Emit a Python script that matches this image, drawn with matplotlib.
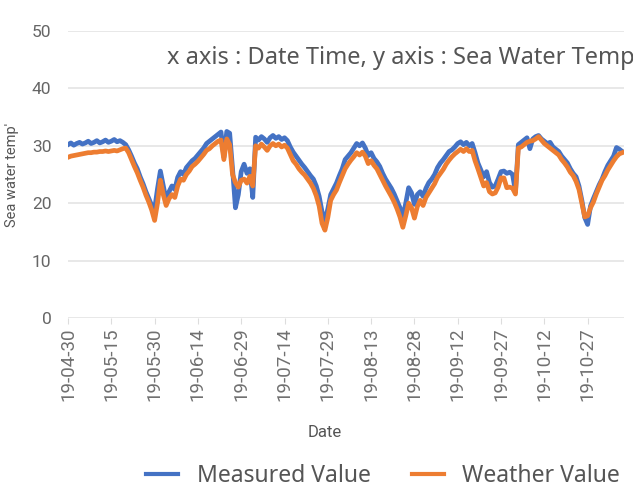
import matplotlib
matplotlib.use("Agg")
import matplotlib.pyplot as plt
import pandas as pd

plt.rcParams['font.family'] = ['Roboto', 'DejaVu Sans']

start_date = "2019-04-30"
measured = [
    30.2, 30.5, 30.1, 30.4, 30.6, 30.3, 30.5, 30.8, 30.4, 30.6,
    30.9, 30.5, 30.7, 31.0, 30.6, 30.8, 31.1, 30.7, 30.9, 30.6,
    30.2, 29.3, 28.2, 27.0, 26.0, 24.6, 23.4, 22.0, 20.8, 19.6,
    18.9, 22.5, 25.6, 23.0, 20.5, 22.0, 23.0, 22.4, 24.5, 25.5,
    25.0, 26.2, 26.8, 27.4, 27.8, 28.4, 29.0, 29.6, 30.4, 30.8,
    31.2, 31.6, 32.0, 32.4, 28.0, 32.5, 32.2, 26.0, 19.2, 21.5,
    25.5, 26.8, 25.2, 26.0, 21.0, 31.5, 31.0, 31.6, 31.2, 30.6,
    31.4, 31.8, 31.3, 31.6, 31.1, 31.4, 30.9, 29.8, 28.9, 28.2,
    27.5, 26.8, 26.2, 25.5, 24.8, 24.2, 23.0, 21.2, 18.5, 17.0,
    19.0, 21.5, 22.5, 23.5, 24.8, 26.0, 27.6, 28.2, 28.8, 29.6,
    30.4, 30.0, 30.5, 29.6, 28.3, 28.8, 27.8, 27.2, 26.4, 25.2,
    24.2, 23.4, 22.6, 21.6, 20.4, 19.2, 17.6, 20.0, 22.7, 21.8,
    19.8, 21.5, 22.0, 21.2, 22.6, 23.6, 24.2, 25.0, 26.2, 27.0,
    27.6, 28.3, 29.0, 29.3, 29.8, 30.4, 30.7, 30.2, 30.6, 30.0,
    30.4, 28.8, 27.0, 25.8, 24.6, 25.5, 23.6, 22.8, 23.0, 24.2,
    25.5, 25.6, 25.2, 25.4, 25.0, 22.0, 30.2, 30.6, 31.0, 31.4,
    29.5, 31.2, 31.6, 31.8, 31.2, 30.8, 30.4, 30.6, 29.8, 29.4,
    29.0, 28.2, 27.6, 27.0, 26.0, 25.2, 24.6, 23.0, 20.5, 17.5,
    16.3, 19.5, 20.8, 22.0, 23.2, 24.2, 25.5, 26.6, 27.4, 28.2,
    29.7, 29.4, 29.0,
]
weather = [
    28.0, 28.2, 28.3, 28.4, 28.5, 28.6, 28.7, 28.8, 28.8, 28.9,
    28.9, 29.0, 29.0, 29.1, 29.0, 29.1, 29.2, 29.1, 29.3, 29.5,
    29.6, 28.8, 27.6, 26.4, 25.3, 24.0, 22.8, 21.4, 20.2, 18.8,
    17.0, 20.0, 24.0, 21.5, 19.6, 20.8, 21.5, 21.0, 23.0, 24.2,
    24.0, 25.0, 25.6, 26.4, 26.8, 27.3, 27.9, 28.5, 29.2, 29.5,
    30.0, 30.4, 30.8, 31.0, 27.6, 31.2, 30.2, 25.0, 23.6, 22.8,
    24.0, 24.2, 23.5, 24.7, 23.0, 30.0, 29.6, 30.3, 29.8, 29.2,
    30.0, 30.4, 30.0, 30.3, 29.8, 30.1, 29.6, 28.5, 27.4, 26.8,
    26.0, 25.4, 24.9, 24.2, 23.5, 22.6, 21.3, 19.5, 16.5, 15.3,
    17.5, 20.5, 21.5, 22.3, 23.6, 24.8, 26.0, 26.8, 27.5, 28.1,
    28.8, 28.4, 28.9, 28.2, 26.9, 27.4, 26.6, 26.0, 25.0, 24.0,
    23.0, 22.1, 21.2, 20.2, 19.0, 17.6, 15.8, 17.8, 20.0, 19.2,
    17.4, 19.4, 20.5, 19.6, 21.0, 21.8, 22.6, 23.4, 24.5, 25.2,
    25.9, 26.8, 27.5, 28.1, 28.6, 29.0, 29.4, 29.0, 29.5, 29.0,
    29.2, 27.4, 26.0, 24.5, 23.0, 23.6, 22.0, 21.6, 21.8, 22.8,
    24.4, 24.4, 22.7, 22.8, 22.6, 21.6, 29.6, 29.8, 30.2, 30.6,
    30.8, 30.9, 31.2, 31.6, 31.0, 30.4, 30.0, 29.6, 29.2, 28.8,
    28.4, 27.6, 27.0, 26.3, 25.4, 24.8, 23.8, 22.4, 20.0, 17.6,
    17.8, 19.2, 20.2, 21.6, 22.8, 24.0, 24.8, 25.8, 26.6, 27.4,
    28.1, 28.6, 28.8,
]
tick_labels = ["19-04-30", "19-05-15", "19-05-30", "19-06-14", "19-06-29",
               "19-07-14", "19-07-29", "19-08-13", "19-08-28", "19-09-12",
               "19-09-27", "19-10-12", "19-10-27"]
y_ticks = [0, 10, 20, 30, 40, 50]

dates = pd.date_range(start_date, periods=len(measured), freq="D")
tick_dates = [pd.Timestamp("20" + t) for t in tick_labels]

fig = plt.figure(figsize=(6.33, 4.90), dpi=100)
ax = fig.add_axes([68/633, 172/490, (624-68)/633, (459-172)/490])

ax.plot(dates, measured, color="#4472C4", lw=3.4, label="Measured Value", zorder=3)
ax.plot(dates, weather, color="#ED7D31", lw=3.4, label="Weather Value", zorder=4)

ax.set_ylim(0, 50)
ax.set_yticks(y_ticks)
ax.set_xlim(pd.Timestamp(start_date), pd.Timestamp(start_date) + pd.Timedelta(days=192.6))
ax.set_xticks(tick_dates)
ax.set_xticklabels(tick_labels, rotation=90)
for s in ax.spines.values():
    s.set_visible(False)
ax.grid(axis="y", color="#e6e6e6", lw=1.3)
ax.set_axisbelow(True)
ax.tick_params(axis="y", length=0, labelsize=12.5, labelcolor="#666666", pad=12)
ax.tick_params(axis="x", length=4, color="#dddddd", labelsize=13.5, labelcolor="#707070", pad=3)

fig.text(167/633, 1 - 58/490, "x axis : Date Time, y axis : Sea Water Temp",
         fontsize=17, color="#555555", va="center", ha="left",
         family=["Noto Sans", "DejaVu Sans"])
fig.text(12/633, 1 - 175/490, "Sea water temp'", rotation=90, fontsize=10.5,
         color="#555555", va="center", ha="center")
fig.text(325/633, 1 - 432/490, "Date", fontsize=12, color="#555555",
         va="center", ha="center")

leg = fig.legend(loc="center", bbox_to_anchor=(383/633, 1 - 476/490), ncol=2,
                 frameon=False, prop={"family": ["Noto Sans", "DejaVu Sans"], "size": 16.5},
                 handlelength=1.4, columnspacing=1.8, handletextpad=0.8)
for t in leg.get_texts():
    t.set_color("#555555")
for h in leg.get_lines():
    h.set_linewidth(3)

fig.savefig("out.png", dpi=100)
